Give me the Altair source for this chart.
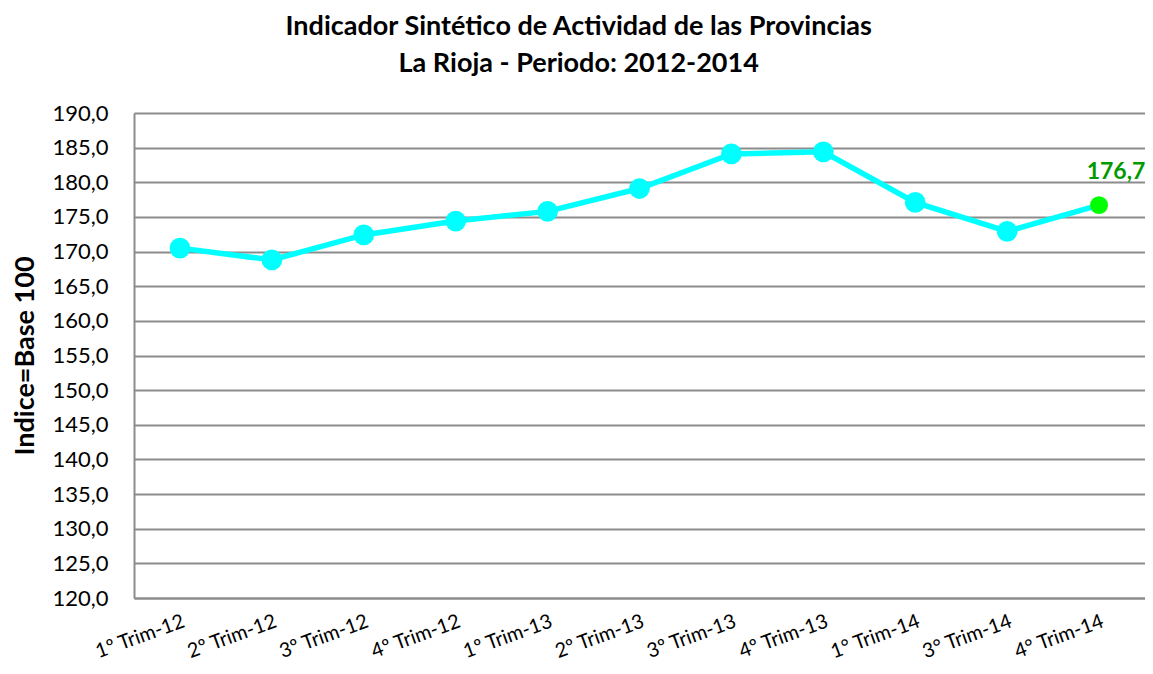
import altair as alt
import pandas as pd

periodos = ["1º Trim-12", "2º Trim-12", "3º Trim-12", "4º Trim-12",
            "1º Trim-13", "2º Trim-13", "3º Trim-13", "4º Trim-13",
            "1° Trim-14", "3° Trim-14", "4° Trim-14"]
valores = [170.5, 168.8, 172.4, 174.4, 175.8, 179.1, 184.1, 184.4, 177.1, 172.9, 176.7]

df = pd.DataFrame({"periodo": periodos, "valor": valores})
df["ultimo"] = [False] * (len(df) - 1) + [True]
df["etiqueta"] = df["valor"].map(lambda v: f"{v:.1f}".replace(".", ","))

FONT = "Lato"

x = alt.X("periodo:N", sort=periodos, title=None,
          scale=alt.Scale(paddingInner=0, paddingOuter=0.5),
          axis=alt.Axis(labelAngle=-20, labelAlign="right", labelBaseline="top",
                        labelPadding=13, labelFontSize=20, labelFont=FONT,
                        labelColor="#000000", ticks=False, domainColor="#8c8c8c",
                        domainWidth=2, grid=False, labelOverlap=False))
y = alt.Y("valor:Q", title="Indice=Base 100",
          scale=alt.Scale(domain=[120, 190], nice=False, zero=False),
          axis=alt.Axis(values=list(range(120, 191, 5)),
                        labelExpr="replace(format(datum.value, '.1f'), '.', ',')",
                        labelFontSize=22, labelFont=FONT, labelColor="#000000",
                        labelPadding=26, ticks=False, domainColor="#8c8c8c",
                        domainWidth=2, gridColor="#8c8c8c", gridWidth=2,
                        titleFont=FONT, titleFontSize=27, titleFontWeight="bold",
                        titleColor="#000000", titlePadding=12))

base = alt.Chart(df).encode(x=x, y=y)

line = base.mark_line(color="#00FFFF", strokeWidth=5.5)
pts = base.transform_filter("!datum.ultimo").mark_circle(color="#00FFFF", size=430, opacity=1)
last = base.transform_filter("datum.ultimo").mark_circle(color="#00FF00", size=320, opacity=1)
lbl = base.transform_filter("datum.ultimo").mark_text(
    color="#009A00", font=FONT, fontSize=23, fontWeight="bold",
    dx=17, dy=-33).encode(text="etiqueta:N")

chart = alt.layer(line, pts, last, lbl).properties(
    width=1011, height=485,
    autosize=alt.AutoSizeParams(type="none"),
    title=alt.TitleParams(
        text=["Indicador Sintético de Actividad de las Provincias",
              "La Rioja - Periodo: 2012-2014"],
        font=FONT, fontSize=27, fontWeight="bold", color="#000000",
        lineHeight=37, anchor="middle", frame="bounds", offset=24),
    padding={"left": 126, "top": 105, "right": 0, "bottom": 68}
).configure_view(stroke=None).configure(background="white")

chart.save("out.html", embed_options={"renderer": "svg", "actions": False})
